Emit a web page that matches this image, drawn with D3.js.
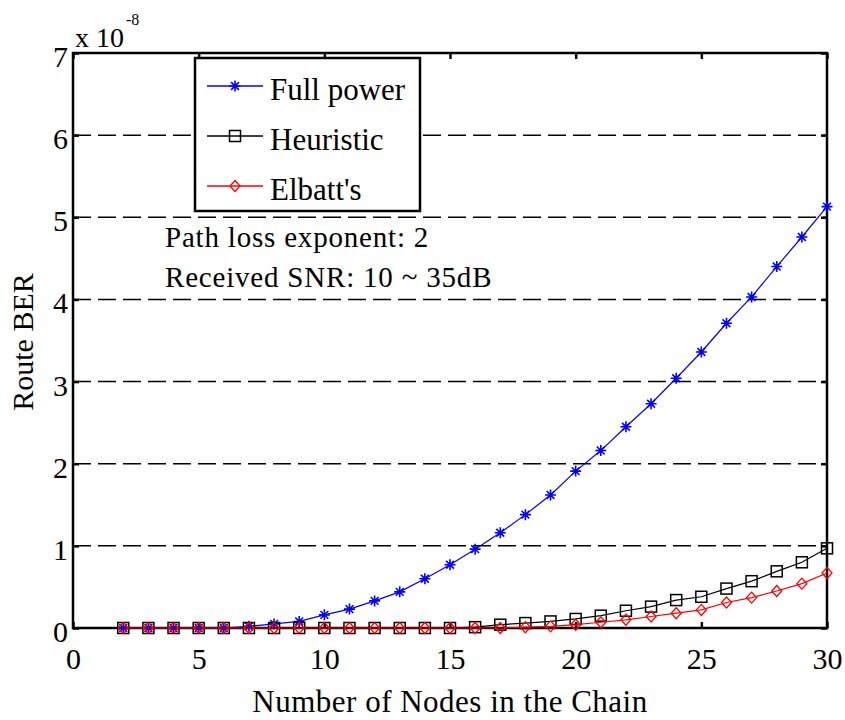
<!DOCTYPE html>
<html><head><meta charset="utf-8">
<script src="https://cdn.jsdelivr.net/npm/d3@7"></script>
<style>body{margin:0;background:#fff}svg{display:block}text{font-family:"Liberation Serif","Times New Roman",serif;fill:#000}</style>
</head><body>
<script>
const nodes = [2,3,4,5,6,7,8,9,10,11,12,13,14,15,16,17,18,19,20,21,22,23,24,25,26,27,28,29,30];
const fullPower = [0,0,0,0,0,0.02,0.05,0.08,0.16,0.23,0.33,0.44,0.6,0.77,0.96,1.16,1.38,1.62,1.91,2.16,2.45,2.73,3.04,3.36,3.71,4.03,4.40,4.76,5.13];
const heuristic = [0,0,0,0,0,0,0,0,0,0,0,0,0,0,0.01,0.04,0.06,0.08,0.11,0.15,0.21,0.26,0.34,0.38,0.48,0.57,0.69,0.80,0.97];
const elbatt = [0,0,0,0,0,0,0,0,0,0,0,0,0,0,0,0,0.01,0.02,0.04,0.07,0.10,0.14,0.18,0.22,0.31,0.37,0.45,0.54,0.67];
const xTicks = [0,5,10,15,20,25,30];
const yTicks = [0,1,2,3,4,5,6,7];
const seriesNames = ["Full power","Heuristic","Elbatt's"];

const W=845,H=720;
const L=73,R=827,T=53,B=628;
const svg=d3.select("body").append("svg").attr("width",W).attr("height",H);
const x=d3.scaleLinear().domain([0,30]).range([L,R]);
const y=d3.scaleLinear().domain([0,7]).range([B,T]);

// grid
svg.append("g").selectAll("line").data(yTicks.filter(v=>v>0)).join("line")
 .attr("x1",L).attr("x2",R).attr("y1",d=>y(d)).attr("y2",d=>y(d))
 .attr("stroke","#000").attr("stroke-width",1.5).attr("stroke-dasharray","18,7");

// axes
const fs="30px";
const gx=svg.append("g").attr("transform",`translate(0,${B})`).call(d3.axisBottom(x).tickValues(xTicks).tickSize(-6).tickPadding(20).tickFormat(d3.format("d")));
const gxt=svg.append("g").attr("transform",`translate(0,${T})`).call(d3.axisTop(x).tickValues(xTicks).tickSize(-6).tickFormat(""));
const gy=svg.append("g").attr("transform",`translate(${L},0)`).call(d3.axisLeft(y).tickValues(yTicks).tickSize(-6).tickPadding(5).tickFormat(d3.format("d")));
const gyr=svg.append("g").attr("transform",`translate(${R},0)`).call(d3.axisRight(y).tickValues(yTicks).tickSize(-6).tickFormat(""));
[gx,gxt,gy,gyr].forEach(g=>{
  g.select(".domain").remove();
  g.selectAll("line").attr("stroke","#000").attr("stroke-width",2.5);
  g.selectAll("text").attr("font-size",fs).attr("font-family","Liberation Serif");
});
gy.selectAll("text").attr("dy","0.45em");
svg.append("rect").attr("x",L).attr("y",T).attr("width",R-L).attr("height",B-T)
 .attr("fill","none").attr("stroke","#000").attr("stroke-width",2.5);

// series
const starPath = s=>{const r=s/2,a=r*0.707;return `M${-r},0L${r},0M0,${-r}L0,${r}M${-a},${-a}L${a},${a}M${-a},${a}L${a},${-a}`;};
function drawMarker(g,type,color){
  if(type==="star") g.append("path").attr("d",starPath(11)).attr("stroke",color).attr("stroke-width",1.6).attr("fill","none");
  else if(type==="square") g.append("rect").attr("x",-5.5).attr("y",-5.5).attr("width",11).attr("height",11).attr("fill","none").attr("stroke",color).attr("stroke-width",1.5);
  else g.append("path").attr("d","M0,-5.5L5,0L0,5.5L-5,0Z").attr("fill","none").attr("stroke",color).attr("stroke-width",1.3);
}
const series=[
 {vals:fullPower,color:"#0000ff",m:"star"},
 {vals:heuristic,color:"#000000",m:"square"},
 {vals:elbatt,color:"#ff0000",m:"diamond"}];
const line=d3.line().x((d,i)=>x(nodes[i])).y(d=>y(d));
series.forEach(s=>{
  svg.append("path").attr("d",line(s.vals)).attr("fill","none").attr("stroke",s.color).attr("stroke-width",1.2);
  s.vals.forEach((v,i)=>{const g=svg.append("g").attr("transform",`translate(${x(nodes[i])},${y(v)})`);drawMarker(g,s.m,s.color);});
});

// legend
const lg=svg.append("g");
lg.append("rect").attr("x",195).attr("y",58).attr("width",225).attr("height",153).attr("fill","#fff").attr("stroke","#000").attr("stroke-width",2.5);
series.forEach((s,i)=>{
  const cy=86+i*50;
  lg.append("line").attr("x1",207).attr("x2",263).attr("y1",cy).attr("y2",cy).attr("stroke",s.color).attr("stroke-width",1.5);
  const g=lg.append("g").attr("transform",`translate(235,${cy})`);drawMarker(g,s.m,s.color);
  lg.append("text").attr("x",270).attr("y",cy+14).attr("font-size","31px").text(seriesNames[i]);
});

// annotations
svg.append("text").attr("x",165).attr("y",247).attr("font-size","29px").attr("letter-spacing","0.8px").text("Path loss exponent: 2");
svg.append("text").attr("x",165).attr("y",287).attr("font-size","29px").attr("letter-spacing","0.8px").text("Received SNR: 10 ~ 35dB");

// exponent
const ex=svg.append("text").attr("x",75).attr("y",47).attr("font-size","28px");
ex.append("tspan").text("x 10");
ex.append("tspan").attr("dx",2).attr("dy",-22).attr("font-size","16px").text("-8");

// axis titles
svg.append("text").attr("x",(L+R)/2).attr("y",712).attr("text-anchor","middle").attr("font-size","31px").attr("letter-spacing","0.5px").text("Number of Nodes in the Chain");
svg.append("text").attr("transform",`translate(33,342) rotate(-90)`).attr("text-anchor","middle").attr("font-size","30px").text("Route BER");
</script>
</body></html>
